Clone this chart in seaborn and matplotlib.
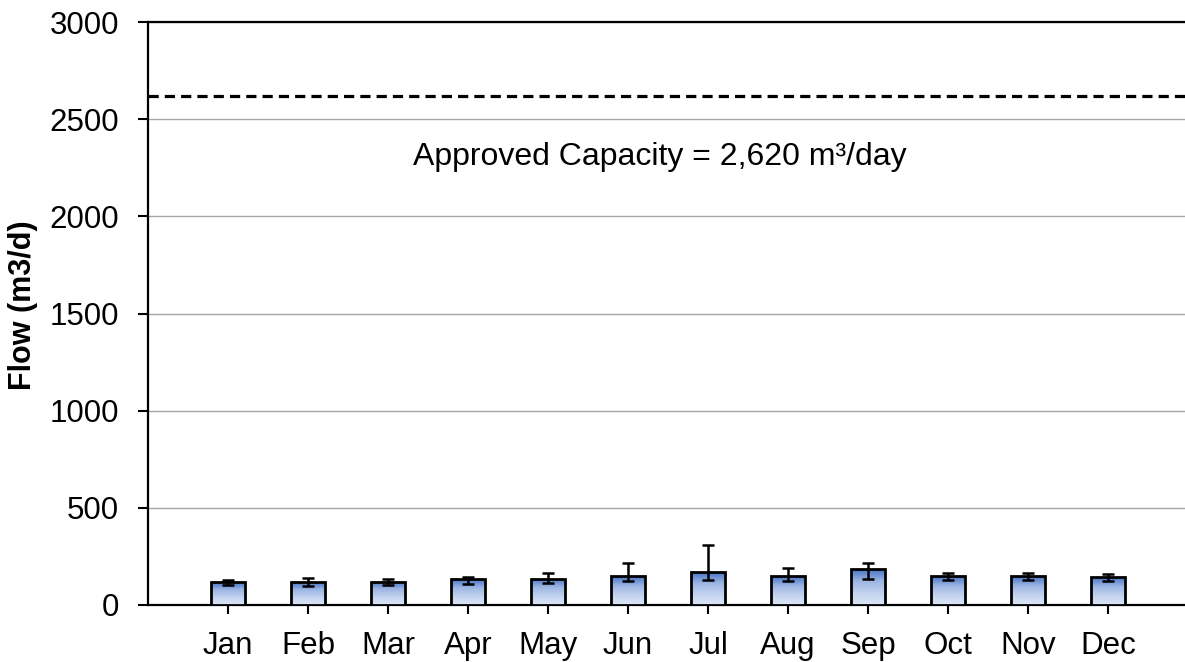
import numpy as np
import matplotlib
matplotlib.use("Agg")
import matplotlib.pyplot as plt
from matplotlib.colors import LinearSegmentedColormap
import seaborn as sns

# monthly flow data (m3/d)
months = ["Jan", "Feb", "Mar", "Apr", "May", "Jun",
          "Jul", "Aug", "Sep", "Oct", "Nov", "Dec"]
flow = [117, 118, 120, 132, 134, 148, 168, 148, 185, 149, 149, 144]
flow_low = [103, 99, 103, 108, 112, 125, 129, 125, 134, 130, 127, 124]
flow_high = [130, 139, 135, 144, 166, 215, 307, 192, 218, 166, 166, 158]
capacity = 2620
y_ticks = [0, 500, 1000, 1500, 2000, 2500, 3000]

sns.set_style("white")
plt.rcParams['font.family'] = ['Liberation Sans', 'DejaVu Sans']
plt.rcParams['text.color'] = 'black'
plt.rcParams['axes.labelcolor'] = 'black'
plt.rcParams['xtick.color'] = 'black'
plt.rcParams['ytick.color'] = 'black'

fig = plt.figure(figsize=(11.85, 6.62), dpi=100)
ax = fig.add_axes([148 / 1185, 1 - 605 / 662, 1040 / 1185, 583 / 662])

sns.barplot(x=months, y=flow, ax=ax, width=0.42, facecolor='none',
            edgecolor='black', linewidth=2.0, zorder=4)

# gradient fill inside each bar
cmap = LinearSegmentedColormap.from_list(
    "grad", ["#dde6f6", "#c3d3ef", "#9cb5e3", "#4672c4"])
grad = np.linspace(0, 1, 256).reshape(-1, 1)
for bar in ax.patches:
    x0, y0 = bar.get_x(), bar.get_y()
    w, h = bar.get_width(), bar.get_height()
    im = ax.imshow(grad, extent=[x0, x0 + w, y0, y0 + h], origin='lower',
                   cmap=cmap, aspect='auto', zorder=3)
    im.set_clip_path(bar)

# error bars
flow_arr = np.array(flow)
yerr = [flow_arr - np.array(flow_low), np.array(flow_high) - flow_arr]
ax.errorbar(range(len(months)), flow, yerr=yerr, fmt='none', ecolor='black',
            elinewidth=1.8, capsize=4.5, capthick=1.8, zorder=5)

# approved capacity line
ax.axhline(capacity, color='black', linewidth=2.3, linestyle=(0, (3.2, 1.9)),
           zorder=2)
ax.text(5.4, 2305, "Approved Capacity = 2,620 m³/day", ha='center',
        va='center', fontsize=23)

ax.set_xlim(-1, 12)
ax.set_ylim(0, 3000)
ax.set_yticks(y_ticks)
ax.yaxis.grid(True, color='#a6a6a6', linewidth=1.0)
ax.set_axisbelow(True)

for side in ['left', 'bottom', 'top']:
    ax.spines[side].set_color('black')
    ax.spines[side].set_linewidth(1.6)
ax.spines['right'].set_visible(False)

ax.tick_params(axis='y', direction='out', length=7, width=1.5, pad=14,
               labelsize=22.5, left=True)
ax.tick_params(axis='x', direction='out', length=6.5, width=1.5, pad=12,
               labelsize=22.5, bottom=True)

ax.set_xlabel("")
ax.set_ylabel("Flow (m3/d)", fontsize=22, fontweight='bold')
ax.yaxis.set_label_coords(-0.106, 0.515)

plt.savefig("out.png", dpi=100)
